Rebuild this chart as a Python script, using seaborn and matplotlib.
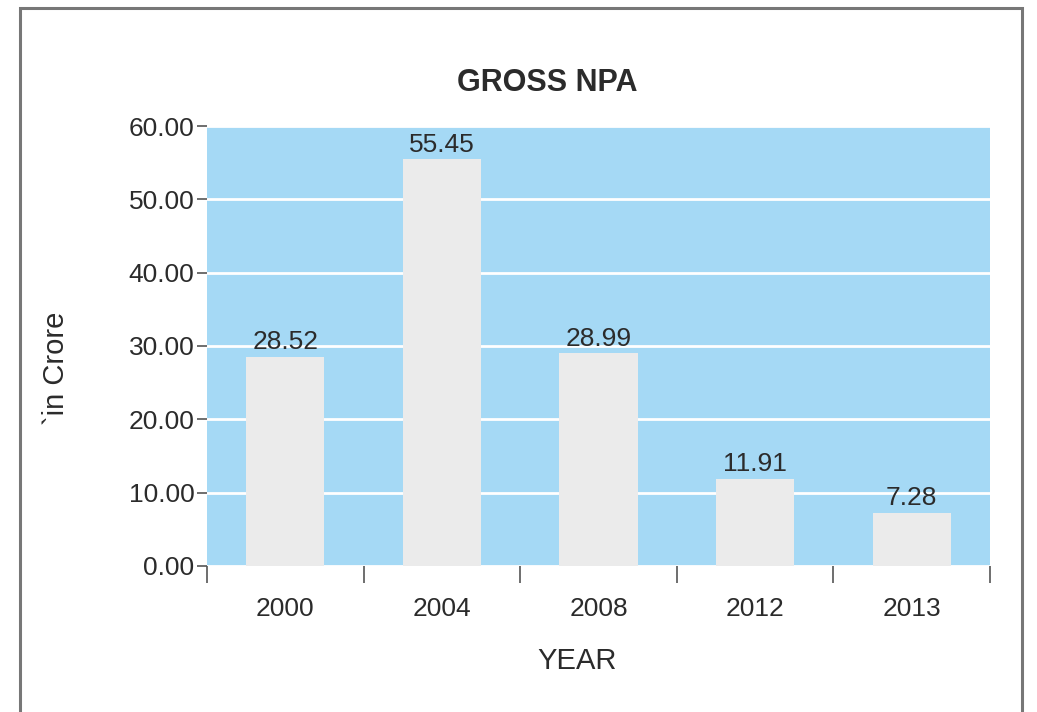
import numpy as np
import pandas as pd
import matplotlib
matplotlib.use("Agg")
import matplotlib.pyplot as plt
import matplotlib.patches as patches
import seaborn as sns

# data
years = ["2000", "2004", "2008", "2012", "2013"]
gross_npa = [28.52, 55.45, 28.99, 11.91, 7.28]

df = pd.DataFrame({"year": years, "npa": gross_npa})

sns.set_style("white")
plt.rcParams["font.family"] = ["Liberation Sans", "DejaVu Sans"]

text_col = "#2b2b2b"
blue_bg = "#a5d9f5"
bar_col = "#ebebeb"

fig = plt.figure(figsize=(10.37, 7.12), dpi=100)
ax = fig.add_axes([0.1996, 0.2051, 0.7551, 0.6179])
ax.set_facecolor(blue_bg)

sns.barplot(data=df, x="year", y="npa", color=bar_col, width=0.5,
            saturation=1, linewidth=0, ax=ax, zorder=3)

# value labels on top of bars
ax.bar_label(ax.containers[0], fmt="%.2f", fontsize=19, color=text_col, padding=2)

ax.set_ylim(0, 60)
ax.set_xlim(-0.5, len(years) - 0.5)
ax.set_yticks(np.arange(0, 61, 10))
ax.set_yticklabels([f"{v:.2f}" for v in np.arange(0, 61, 10)])
ax.yaxis.grid(True, color="white", linewidth=2, zorder=1)
ax.set_axisbelow(True)

# ticks between categories, labels centred under bars
ax.set_xticks(np.arange(-0.5, len(years)), minor=True)
ax.tick_params(axis="x", which="minor", bottom=True, length=12, width=1.2, color="#555555")
ax.tick_params(axis="x", which="major", bottom=True, length=0, pad=22, labelsize=19,
               labelcolor=text_col)
ax.tick_params(axis="y", length=7, width=1.2, color="#555555", pad=2,
               labelsize=19, labelcolor=text_col, left=True)

for s in ax.spines.values():
    s.set_visible(False)

fig.text(0.528, 0.883, "GROSS NPA", fontsize=22, fontweight="bold", color=text_col,
         ha="center", va="center")
ax.set_xlabel("YEAR", fontsize=21, color=text_col)
ax.xaxis.set_label_coords(0.472, -0.185)
ax.set_ylabel("`in Crore", fontsize=21, color=text_col)
ax.yaxis.set_label_coords(-0.175, 0.45)

# outer frame around the whole chart
frame = patches.Rectangle((0.0193, -0.05), 0.9662, 1.0388, transform=fig.transFigure,
                          fill=False, edgecolor="#777777", linewidth=2.2)
fig.patches.append(frame)

fig.savefig("out.png", dpi=100, facecolor="white")
